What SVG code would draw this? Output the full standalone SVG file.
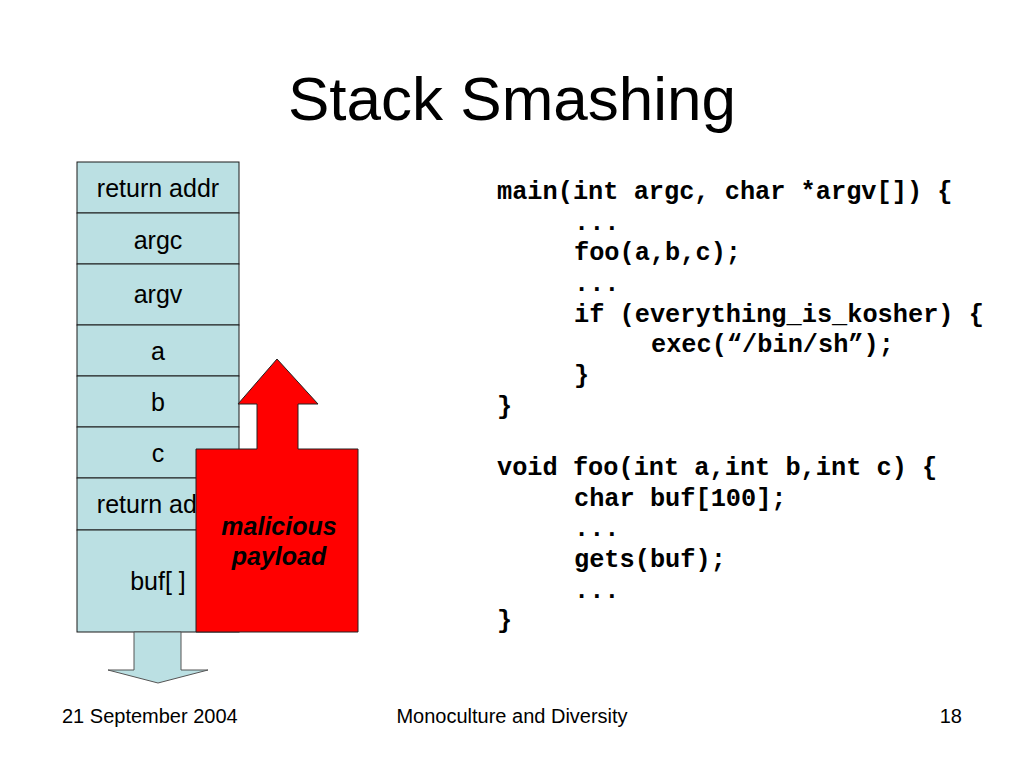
<svg xmlns="http://www.w3.org/2000/svg" width="1024" height="768" viewBox="0 0 1024 768">
<style>
.cell{fill:#BBE0E3;stroke:#1a1a1a;stroke-width:1}
.lbl{font-family:"Liberation Sans",Arial,sans-serif;font-size:25px;fill:#000;text-anchor:middle}
.code{font-family:"Liberation Mono","Courier New",monospace;font-size:25.3px;font-weight:bold;fill:#000}
.foot{font-family:"Liberation Sans",Arial,sans-serif;font-size:20px;fill:#000}
.pay{font-family:"Liberation Sans",Arial,sans-serif;font-size:25px;font-weight:bold;font-style:italic;fill:#000;text-anchor:middle}
</style>
<rect width="1024" height="768" fill="#fff"/>
<text x="512" y="120" font-family="Liberation Sans,Arial,sans-serif" font-size="62" text-anchor="middle">Stack Smashing</text>
<g id="stack">
<rect class="cell" x="77" y="162" width="162" height="51"/>
<rect class="cell" x="77" y="213" width="162" height="51"/>
<rect class="cell" x="77" y="264" width="162" height="61"/>
<rect class="cell" x="77" y="325" width="162" height="51"/>
<rect class="cell" x="77" y="376" width="162" height="51"/>
<rect class="cell" x="77" y="427" width="162" height="51"/>
<rect class="cell" x="77" y="478" width="162" height="52"/>
<rect class="cell" x="77" y="530" width="162" height="102"/>
<text class="lbl" x="158" y="197">return addr</text>
<text class="lbl" x="158" y="249">argc</text>
<text class="lbl" x="158" y="303">argv</text>
<text class="lbl" x="158" y="360">a</text>
<text class="lbl" x="158" y="411">b</text>
<text class="lbl" x="158" y="462">c</text>
<text class="lbl" x="158" y="513">return addr</text>
<text class="lbl" x="158" y="590">buf[ ]</text>
</g>
<g id="connectors">
<polygon points="134,632 181,632 181,670 208,670 158,683 108,670 134,670" fill="#BBE0E3" stroke="#555" stroke-width="1"/>
</g>
<g id="payload">
<polygon points="257,449 257,404 238,404 277,359 318,404 298,404 298,449 358,449 358,632 196,632 196,449" fill="#FF0000" stroke="#222" stroke-width="1"/>
<text class="pay" x="279" y="535">malicious</text>
<text class="pay" x="279" y="565">payload</text>
</g>
<g id="code">
<text class="code" x="497" y="199">main(int argc, char *argv[]) {</text>
<text class="code" x="574" y="229.5">...</text>
<text class="code" x="574" y="260">foo(a,b,c);</text>
<text class="code" x="574" y="291">...</text>
<text class="code" x="574" y="321.5">if (everything_is_kosher) {</text>
<text class="code" x="651" y="352">exec(“/bin/sh”);</text>
<text class="code" x="574" y="383">}</text>
<text class="code" x="497" y="413.5">}</text>
<text class="code" x="497" y="475">void foo(int a,int b,int c) {</text>
<text class="code" x="574" y="505.5">char buf[100];</text>
<text class="code" x="574" y="536">...</text>
<text class="code" x="574" y="567">gets(buf);</text>
<text class="code" x="574" y="597.5">...</text>
<text class="code" x="497" y="628">}</text>
</g>
<g id="footer">
<text class="foot" x="62" y="723">21 September 2004</text>
<text class="foot" x="512" y="723" text-anchor="middle">Monoculture and Diversity</text>
<text class="foot" x="962" y="723" text-anchor="end">18</text>
</g>
</svg>
